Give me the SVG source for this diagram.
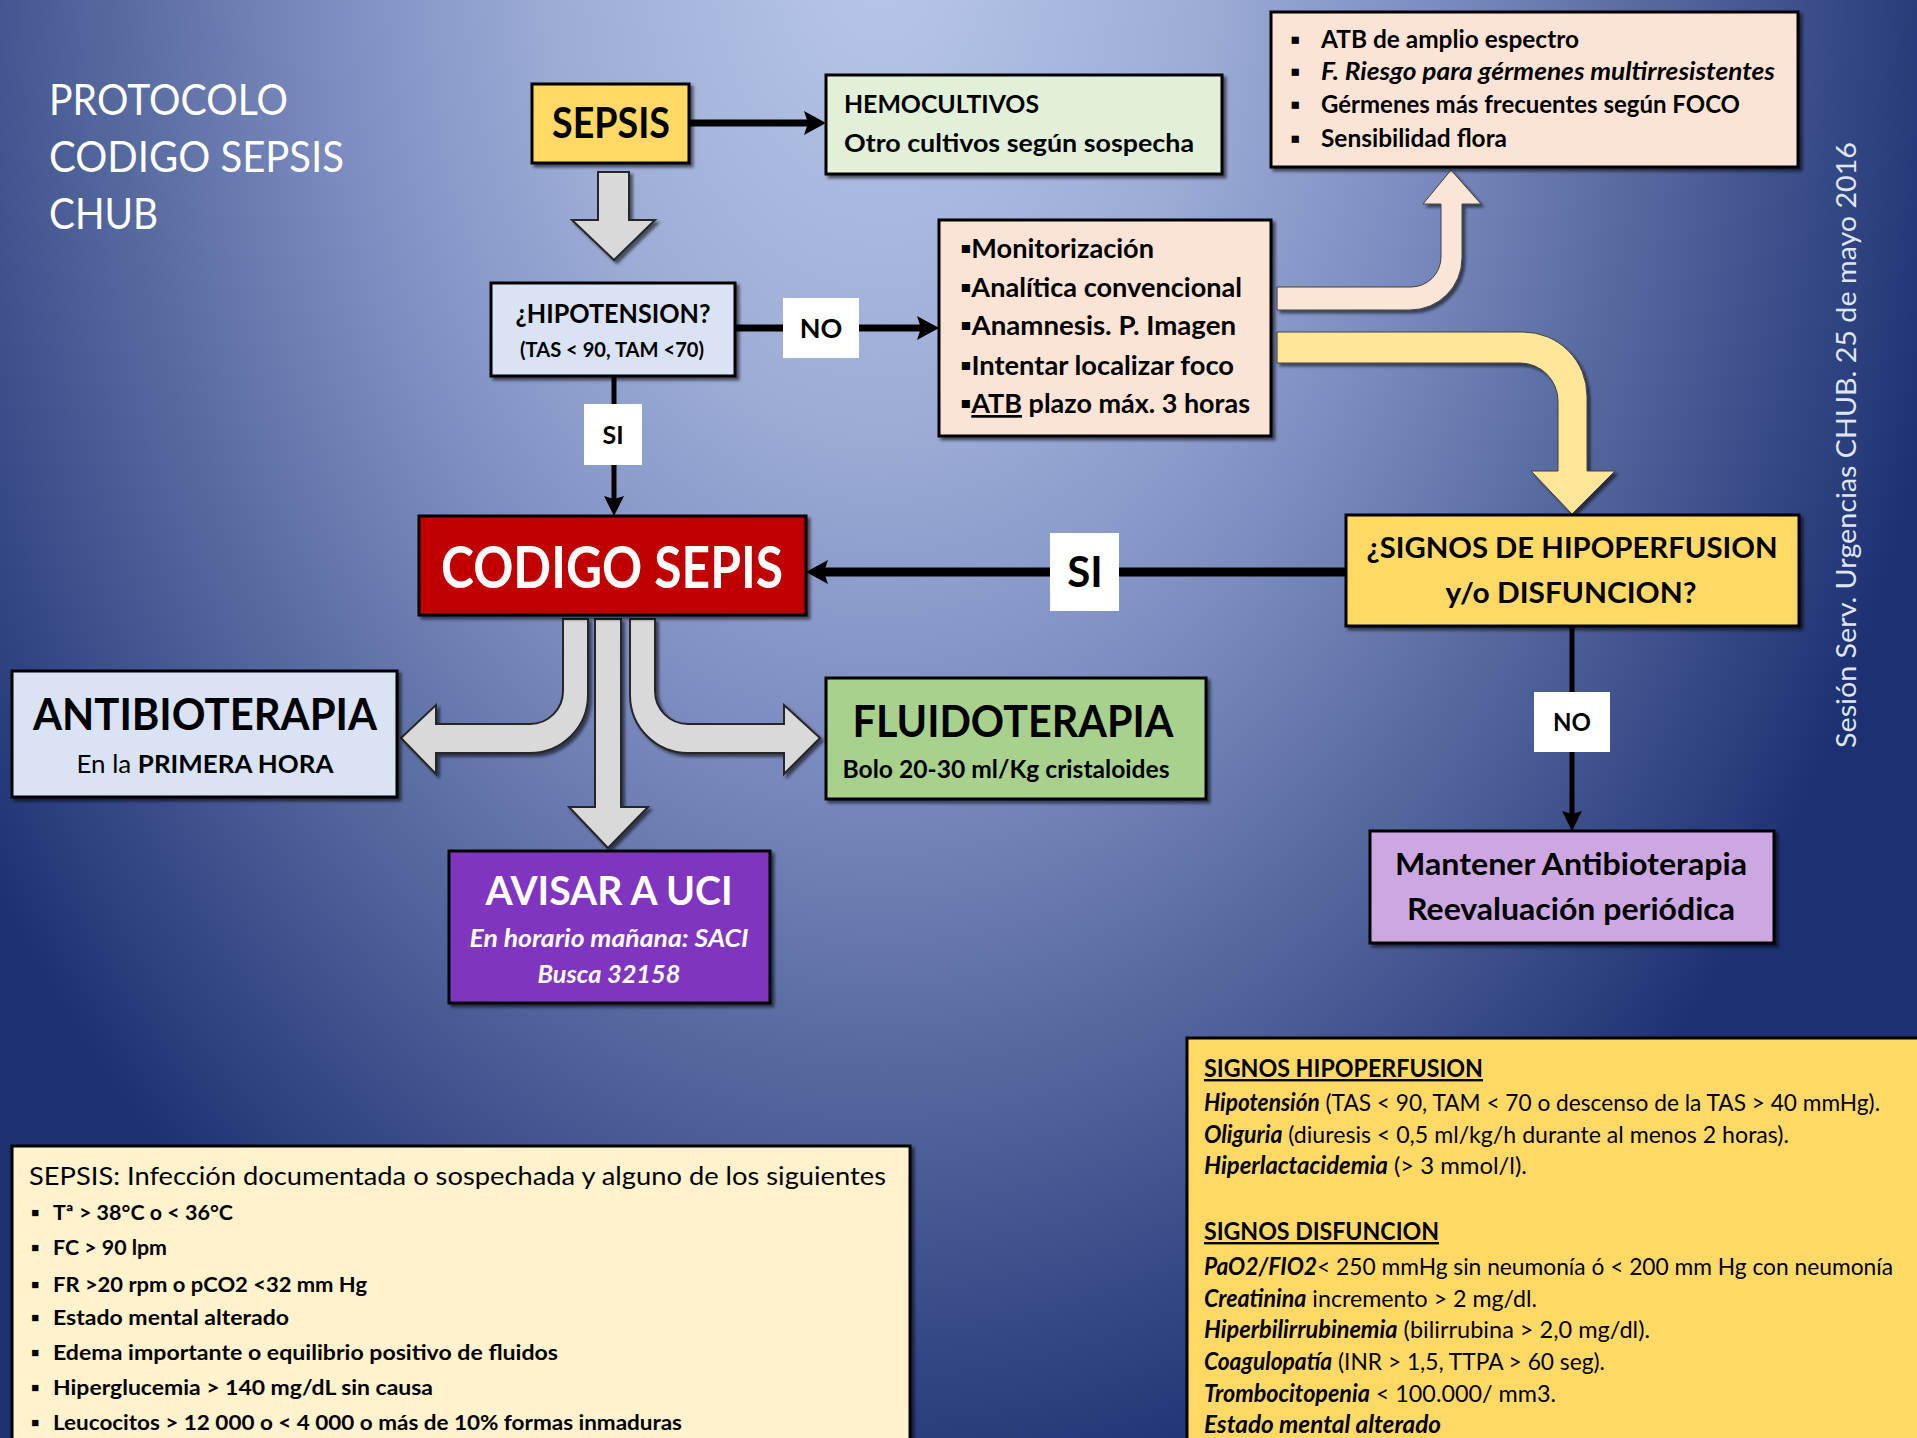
<svg xmlns="http://www.w3.org/2000/svg" width="1917" height="1438" viewBox="0 0 1917 1438">
<defs>
<radialGradient id="bg" gradientUnits="userSpaceOnUse" cx="880" cy="-50" r="1100" gradientTransform="translate(880 -50) scale(1 1.45) translate(-880 50)">
<stop offset="0" stop-color="#b8c7e8"/>
<stop offset="0.3" stop-color="#9cacd6"/>
<stop offset="0.5" stop-color="#7d8dc1"/>
<stop offset="0.7" stop-color="#56699f"/>
<stop offset="0.85" stop-color="#3a4d8a"/>
<stop offset="1" stop-color="#1d3072"/>
</radialGradient>
<filter id="sh" x="-10%" y="-10%" width="130%" height="130%">
<feDropShadow dx="3" dy="3" stdDeviation="1.5" flood-color="#000" flood-opacity="0.55"/>
</filter>
<marker id="ah" viewBox="0 0 22 24" markerWidth="22" markerHeight="24" refX="7" refY="12" orient="auto" markerUnits="userSpaceOnUse">
<path d="M0,0 L22,12 L0,24 L4,12 Z" fill="#000"/>
</marker>
<marker id="ahs" viewBox="0 0 20 20" markerWidth="20" markerHeight="20" refX="5" refY="10" orient="auto" markerUnits="userSpaceOnUse">
<path d="M0,0 L20,10 L0,20 L3,10 Z" fill="#000"/>
</marker>
<style>
text{font-family:Lato,"Open Sans","Liberation Sans",sans-serif;}
.box{stroke:#000;stroke-width:3;filter:url(#sh);}
.b{font-weight:700;}
.i{font-style:italic;}
.n{font-weight:400;font-style:normal;}
.c{text-anchor:middle;}
.w{fill:#fff;}
.k{fill:#000;}
.line{stroke:#000;fill:none;}
.lbl{fill:#fff;}
.blk{fill:#d9d9d9;stroke:#262626;stroke-width:2;filter:url(#sh);}
.pch{fill:#fbe5d6;stroke:#404040;stroke-width:1;filter:url(#sh);}
.yel{fill:#ffe699;stroke:#404040;stroke-width:1;filter:url(#sh);}
</style>
</defs>
<rect x="0" y="0" width="1917" height="1438" fill="url(#bg)"/>

<g id="title">
<text class="w" x="49" y="115" font-size="42" textLength="239" lengthAdjust="spacingAndGlyphs">PROTOCOLO</text>
<text class="w" x="49" y="172" font-size="42" textLength="295" lengthAdjust="spacingAndGlyphs">CODIGO SEPSIS</text>
<text class="w" x="49" y="229" font-size="42" textLength="109" lengthAdjust="spacingAndGlyphs">CHUB</text>
</g>

<g id="side-note">
<text fill="#dfe5f4" font-size="27" text-anchor="middle" transform="translate(1856 445) rotate(-90)" textLength="606" lengthAdjust="spacingAndGlyphs">Sesión Serv. Urgencias CHUB. 25 de mayo 2016</text>
</g>

<g id="connectors">
<path class="blk" d="M598 172 L629 172 L629 220 L655 220 L614 260 L572 220 L598 220 Z"/>
<path class="line" stroke-width="7" d="M690 123 H811" marker-end="url(#ah)"/>
<path class="line" stroke-width="7" d="M735 328 H783"/>
<path class="line" stroke-width="7" d="M859 328 H924" marker-end="url(#ah)"/>
<path class="line" stroke-width="5" d="M614 376 V404"/>
<path class="line" stroke-width="5" d="M614 465 V501" marker-end="url(#ahs)"/>
<path class="pch" d="M1277 287 L1411 287 A30 30 0 0 0 1441 257 L1441 204 L1423 204 L1451 170 L1481 204 L1462 204 L1462 258 A52 52 0 0 1 1410 310 L1277 310 Z"/>
<path class="yel" d="M1277 332 L1523 332 A64 64 0 0 1 1587 396 L1587 471 L1615 471 L1572 514 L1531 471 L1558 471 L1558 401 A38 38 0 0 0 1520 363 L1277 363 Z"/>
<path class="line" stroke-width="9" d="M1346 572 H1119"/>
<path class="line" stroke-width="9" d="M1050 572 H821" marker-end="url(#ah)"/>
<path class="line" stroke-width="5" d="M1572 626 V692"/>
<path class="line" stroke-width="5" d="M1572 752 V816" marker-end="url(#ahs)"/>
<path class="blk" d="M563 619 L563 691 A33 33 0 0 1 530 724 L436 724 L436 705 L401 738 L436 774 L436 753 L530 753 A58 58 0 0 0 588 695 L588 619 Z"/>
<path class="blk" d="M655 619 L655 691 A33 33 0 0 0 688 724 L784 724 L784 705 L820 738 L784 774 L784 753 L688 753 A58 58 0 0 1 630 695 L630 619 Z"/>
<path class="blk" d="M595 619 L621 619 L621 807 L648 807 L608 848 L569 807 L595 807 Z"/>
<rect class="lbl" x="783" y="298" width="76" height="60"/>
<text class="b c k" x="821" y="338" font-size="27">NO</text>
<rect class="lbl" x="584" y="404" width="58" height="61"/>
<text class="b c k" x="613" y="444" font-size="25">SI</text>
<rect class="lbl" x="1050" y="533" width="69" height="78"/>
<text class="b c k" x="1085" y="587" font-size="42">SI</text>
<rect class="lbl" x="1534" y="692" width="76" height="60"/>
<text class="b c k" x="1572" y="731" font-size="24">NO</text>
</g>

<g id="sepsis">
<rect class="box" x="532" y="84" width="157" height="79" fill="#ffd966"/>
<text class="b c k" x="611" y="138" font-size="42" textLength="118" lengthAdjust="spacingAndGlyphs">SEPSIS</text>
</g>

<g id="hemocultivos">
<rect class="box" x="826" y="75" width="396" height="99" fill="#e2efd9"/>
<text class="b k" x="844" y="113" font-size="25" textLength="195" lengthAdjust="spacingAndGlyphs">HEMOCULTIVOS</text>
<text class="b k" x="844" y="152" font-size="25" textLength="350" lengthAdjust="spacingAndGlyphs">Otro cultivos según sospecha</text>
</g>

<g id="atb">
<rect class="box" x="1271" y="12" width="527" height="155" fill="#fbe4d5"/>
<g class="b k" font-size="24">
<text x="1290" y="48">▪</text>
<text x="1321" y="48" textLength="258" lengthAdjust="spacingAndGlyphs">ATB de amplio espectro</text>
<text x="1290" y="80">▪</text>
<text class="i" x="1321" y="80" textLength="454" lengthAdjust="spacingAndGlyphs">F. Riesgo para gérmenes multirresistentes</text>
<text x="1290" y="113">▪</text>
<text x="1321" y="113" textLength="419" lengthAdjust="spacingAndGlyphs">Gérmenes más frecuentes según FOCO</text>
<text x="1290" y="147">▪</text>
<text x="1321" y="147" textLength="186" lengthAdjust="spacingAndGlyphs">Sensibilidad flora</text>
</g>
</g>

<g id="hipotension">
<rect class="box" x="491" y="283" width="244" height="93" fill="#dae3f3"/>
<text class="b c k" x="613" y="323" font-size="27" textLength="195" lengthAdjust="spacingAndGlyphs">¿HIPOTENSION?</text>
<text class="b c k" x="612" y="357" font-size="20" textLength="184" lengthAdjust="spacingAndGlyphs">(TAS &lt; 90, TAM &lt;70)</text>
</g>

<g id="monitorizacion">
<rect class="box" x="939" y="220" width="332" height="216" fill="#fbe4d5"/>
<g class="b k" font-size="27">
<text x="960" y="258" textLength="194" lengthAdjust="spacingAndGlyphs">▪Monitorización</text>
<text x="960" y="297" textLength="282" lengthAdjust="spacingAndGlyphs">▪Analítica convencional</text>
<text x="960" y="335" textLength="276" lengthAdjust="spacingAndGlyphs">▪Anamnesis. P. Imagen</text>
<text x="960" y="375" textLength="274" lengthAdjust="spacingAndGlyphs">▪Intentar localizar foco</text>
<text x="960" y="413" textLength="290" lengthAdjust="spacingAndGlyphs">▪<tspan text-decoration="underline">ATB</tspan> plazo máx. 3 horas</text>
</g>
</g>

<g id="codigo-sepsis">
<rect class="box" x="419" y="516" width="387" height="99" fill="#c00000"/>
<text class="b c w" x="612" y="588" font-size="58" textLength="342" lengthAdjust="spacingAndGlyphs">CODIGO SEPIS</text>
</g>

<g id="signos">
<rect class="box" x="1346" y="515" width="453" height="111" fill="#ffd966"/>
<text class="b c k" x="1572" y="558" font-size="28" textLength="411" lengthAdjust="spacingAndGlyphs">¿SIGNOS DE HIPOPERFUSION</text>
<text class="b c k" x="1571" y="603" font-size="28" textLength="251" lengthAdjust="spacingAndGlyphs">y/o DISFUNCION?</text>
</g>

<g id="mantener">
<rect class="box" x="1370" y="831" width="404" height="112" fill="#cca7e2"/>
<text class="b c k" x="1571" y="875" font-size="30" textLength="352" lengthAdjust="spacingAndGlyphs">Mantener Antibioterapia</text>
<text class="b c k" x="1571" y="920" font-size="30" textLength="328" lengthAdjust="spacingAndGlyphs">Reevaluación periódica</text>
</g>

<g id="antibioterapia">
<rect class="box" x="12" y="671" width="385" height="126" fill="#dae3f3"/>
<text class="b c k" x="205" y="730" font-size="44" textLength="344" lengthAdjust="spacingAndGlyphs">ANTIBIOTERAPIA</text>
<text class="c k" x="205" y="773" font-size="25" textLength="257" lengthAdjust="spacingAndGlyphs">En la <tspan class="b">PRIMERA HORA</tspan></text>
</g>

<g id="fluidoterapia">
<rect class="box" x="826" y="678" width="380" height="121" fill="#a9d18e"/>
<text class="b c k" x="1013" y="737" font-size="44" textLength="321" lengthAdjust="spacingAndGlyphs">FLUIDOTERAPIA</text>
<text class="b c k" x="1006" y="778" font-size="25" textLength="327" lengthAdjust="spacingAndGlyphs">Bolo 20-30 ml/Kg cristaloides</text>
</g>

<g id="avisar-uci">
<rect class="box" x="449" y="851" width="321" height="152" fill="#7f35bf"/>
<text class="b c w" x="609" y="905" font-size="40" textLength="247" lengthAdjust="spacingAndGlyphs">AVISAR A UCI</text>
<text class="b i c w" x="609" y="947" font-size="24" textLength="279" lengthAdjust="spacingAndGlyphs">En horario mañana: SACI</text>
<text class="b i c w" x="609" y="983" font-size="24" textLength="143" lengthAdjust="spacingAndGlyphs">Busca 32158</text>
</g>

<g id="definicion-sepsis">
<rect class="box" x="12" y="1146" width="898" height="320" fill="#fff2cc"/>
<text class="k" x="29" y="1185" font-size="25" textLength="857" lengthAdjust="spacingAndGlyphs">SEPSIS: Infección documentada o sospechada y alguno de los siguientes</text>
<g class="b k" font-size="21">
<text x="31" y="1220">▪</text><text x="53" y="1220" textLength="180" lengthAdjust="spacingAndGlyphs">Tª &gt; 38°C o &lt; 36°C</text>
<text x="31" y="1255">▪</text><text x="53" y="1255" textLength="114" lengthAdjust="spacingAndGlyphs">FC &gt; 90 lpm</text>
<text x="31" y="1292">▪</text><text x="53" y="1292" textLength="314" lengthAdjust="spacingAndGlyphs">FR &gt;20 rpm o pCO2 &lt;32 mm Hg</text>
<text x="31" y="1325">▪</text><text x="53" y="1325" textLength="236" lengthAdjust="spacingAndGlyphs">Estado mental alterado</text>
<text x="31" y="1360">▪</text><text x="53" y="1360" textLength="505" lengthAdjust="spacingAndGlyphs">Edema importante o equilibrio positivo de fluidos</text>
<text x="31" y="1395">▪</text><text x="53" y="1395" textLength="380" lengthAdjust="spacingAndGlyphs">Hiperglucemia &gt; 140 mg/dL  sin causa</text>
<text x="31" y="1430">▪</text><text x="53" y="1430" textLength="629" lengthAdjust="spacingAndGlyphs">Leucocitos &gt; 12 000 o &lt; 4 000 o más de 10% formas inmaduras</text>
</g>
</g>

<g id="signos-detalle">
<rect class="box" x="1187" y="1038" width="760" height="420" fill="#ffd966"/>
<g class="k" font-size="24">
<text class="b" x="1204" y="1077" text-decoration="underline" textLength="279" lengthAdjust="spacingAndGlyphs">SIGNOS HIPOPERFUSION</text>
<text x="1204" y="1111" textLength="676" lengthAdjust="spacingAndGlyphs"><tspan class="b i">Hipotensión</tspan> (TAS &lt; 90, TAM &lt; 70 o descenso de la TAS &gt; 40 mmHg).</text>
<text x="1204" y="1143" textLength="585" lengthAdjust="spacingAndGlyphs"><tspan class="b i">Oliguria</tspan> (diuresis &lt; 0,5 ml/kg/h durante al menos 2 horas).</text>
<text x="1204" y="1174" textLength="323" lengthAdjust="spacingAndGlyphs"><tspan class="b i">Hiperlactacidemia</tspan> (&gt; 3 mmol/l).</text>
<text class="b" x="1204" y="1240" text-decoration="underline" textLength="235" lengthAdjust="spacingAndGlyphs">SIGNOS DISFUNCION</text>
<text x="1204" y="1275" textLength="689" lengthAdjust="spacingAndGlyphs"><tspan class="b i">PaO2/FIO2</tspan>&lt; 250 mmHg sin neumonía ó &lt; 200 mm Hg con neumonía</text>
<text x="1204" y="1307" textLength="333" lengthAdjust="spacingAndGlyphs"><tspan class="b i">Creatinina</tspan> incremento &gt; 2 mg/dl.</text>
<text x="1204" y="1338" textLength="446" lengthAdjust="spacingAndGlyphs"><tspan class="b i">Hiperbilirrubinemia</tspan> (bilirrubina &gt; 2,0 mg/dl).</text>
<text x="1204" y="1370" textLength="401" lengthAdjust="spacingAndGlyphs"><tspan class="b i">Coagulopatía</tspan> (INR &gt; 1,5, TTPA &gt; 60 seg).</text>
<text x="1204" y="1402" textLength="352" lengthAdjust="spacingAndGlyphs"><tspan class="b i">Trombocitopenia</tspan> &lt; 100.000/ mm3.</text>
<text class="b i" x="1204" y="1433" textLength="237" lengthAdjust="spacingAndGlyphs">Estado mental alterado</text>
</g>
</g>
</svg>
